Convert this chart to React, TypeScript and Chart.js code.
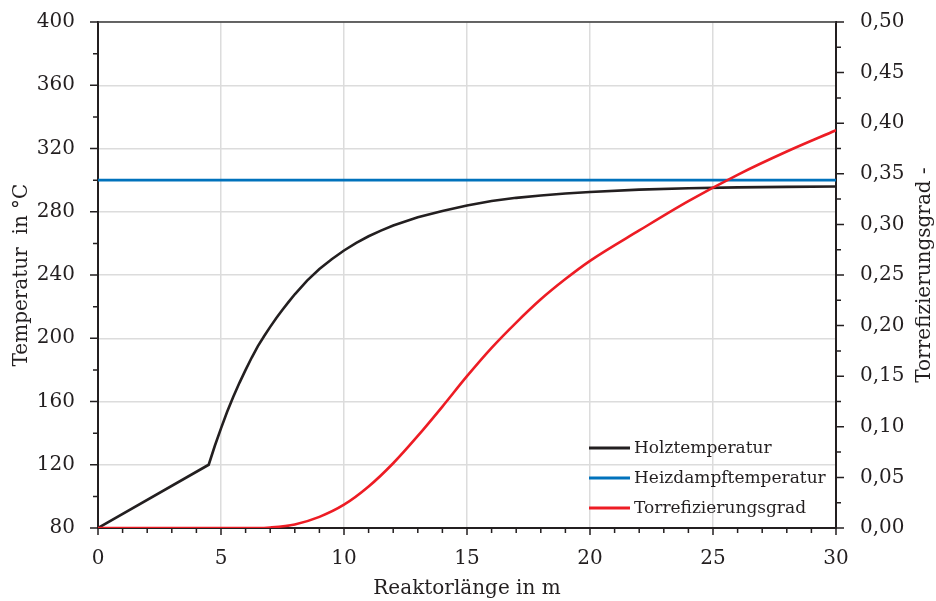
import { useEffect, useRef } from "react";
import { Chart, registerables } from "chart.js";

Chart.register(...registerables);

const FONT = "'DejaVu Serif', 'Liberation Serif', serif";
const INK = "#231f20";
const GRID = "#dcdcdc";

// Holztemperatur along the reactor (m, °C)
const holzX = [0, 4.5, 4.75, 5, 5.25, 5.5, 5.75, 6, 6.25, 6.5, 6.75, 7, 7.25, 7.5, 7.75, 8, 8.5, 9, 9.5, 10, 10.5, 11, 11.5, 12, 13, 14, 15, 16, 17, 18, 19, 20, 22, 24, 26, 28, 30];
const holzTemp = [80, 120, 132, 143, 153.5, 163, 171.8, 180, 187.8, 195, 201.3, 207.2, 212.8, 218, 223, 227.8, 236.5, 243.8, 250, 255.5, 260.3, 264.5, 268.1, 271.3, 276.5, 280.5, 284, 286.8, 288.8, 290.3, 291.5, 292.5, 294, 294.9, 295.4, 295.7, 296];

// Heizdampftemperatur (constant)
const dampfX = [0, 30];
const dampfTemp = [300, 300];

// Torrefizierungsgrad along the reactor (m, -)
const gradX = [0, 6.5, 7, 8, 9, 10, 11, 12, 13, 14, 15, 16, 17, 18, 19, 20, 22, 24, 26, 28, 30];
const gradValues = [0, 0, 0.0005, 0.0035, 0.011, 0.023, 0.041, 0.064, 0.091, 0.12, 0.15, 0.178, 0.203, 0.226, 0.246, 0.264, 0.294, 0.323, 0.349, 0.372, 0.393];

const seriesLabels = ["Holztemperatur", "Heizdampftemperatur", "Torrefizierungsgrad"];
const seriesColors = ["#231f20", "#0072bc", "#ed1c24"];

const xTitle = "Reaktorlänge in m";
const yTitle = "Temperatur  in °C";
const y2Title = "Torrefizierungsgrad -";

const toPoints = (xs: number[], ys: number[]) => xs.map((x, i) => ({ x, y: ys[i] }));

// Frame, minor/major tick marks, legend and right-hand axis title
const decorations = {
  id: "decorations",
  afterDraw(chart: any) {
    const { ctx, chartArea: a, scales } = chart;
    ctx.save();

    // top edge of the frame
    ctx.strokeStyle = "#3a3a3a";
    ctx.lineWidth = 1.5;
    ctx.beginPath();
    ctx.moveTo(a.left, a.top);
    ctx.lineTo(a.right, a.top);
    ctx.stroke();

    ctx.strokeStyle = INK;
    ctx.lineWidth = 1.5;
    ctx.beginPath();
    // left axis: every 20 °C, long marks every 40 °C
    for (let v = scales.y.min; v <= scales.y.max + 1e-9; v += 20) {
      const p = scales.y.getPixelForValue(v);
      const len = (v - scales.y.min) % 40 === 0 ? 8 : 5;
      ctx.moveTo(a.left - len, p);
      ctx.lineTo(a.left, p);
    }
    // bottom axis: every 1 m, long marks every 5 m
    for (let v = scales.x.min; v <= scales.x.max + 1e-9; v += 1) {
      const p = scales.x.getPixelForValue(v);
      const len = v % 5 === 0 ? 7 : 5;
      ctx.moveTo(p, a.bottom);
      ctx.lineTo(p, a.bottom + len);
    }
    // right axis: every 0.025, long marks every 0.05
    for (let i = 0; i <= 20; i++) {
      const v = i * 0.025;
      const p = scales.y2.getPixelForValue(v);
      const len = i % 2 === 0 ? 8 : 5;
      ctx.moveTo(a.right, p);
      ctx.lineTo(a.right + len, p);
    }
    ctx.stroke();

    // legend in the lower right of the plot
    ctx.font = `17px ${FONT}`;
    ctx.textBaseline = "middle";
    ctx.textAlign = "left";
    chart.data.datasets.forEach((ds: any, i: number) => {
      const y = a.bottom - 80 + i * 30;
      const x0 = a.right - 247;
      ctx.strokeStyle = ds.borderColor;
      ctx.lineWidth = 3;
      ctx.beginPath();
      ctx.moveTo(x0, y);
      ctx.lineTo(x0 + 41, y);
      ctx.stroke();
      ctx.fillStyle = INK;
      ctx.fillText(ds.label, x0 + 45, y + 1);
    });

    // right axis title, reading bottom to top
    ctx.font = `20px ${FONT}`;
    ctx.fillStyle = INK;
    ctx.textAlign = "center";
    ctx.textBaseline = "middle";
    ctx.translate(925, (a.top + a.bottom) / 2);
    ctx.rotate(-Math.PI / 2);
    ctx.fillText(y2Title, 0, 0);

    ctx.restore();
  },
};

// fixed axis band sizes so the plot area sits where it should
const fixWidth = (w: number) => (s: any) => {
  s.width = w;
  s.paddingTop = 0;
  s.paddingBottom = 0;
};

export default function App() {
  const canvasRef = useRef<HTMLCanvasElement | null>(null);

  useEffect(() => {
    document.body.style.margin = "0";
    const canvas = canvasRef.current;
    if (!canvas) return;

    const chart = new Chart(canvas, {
      type: "line",
      data: {
        datasets: [
          {
            label: seriesLabels[0],
            data: toPoints(holzX, holzTemp),
            borderColor: seriesColors[0],
            borderWidth: 2.6,
            pointRadius: 0,
            tension: 0,
            yAxisID: "y",
            order: 1,
          },
          {
            label: seriesLabels[1],
            data: toPoints(dampfX, dampfTemp),
            borderColor: seriesColors[1],
            borderWidth: 2.6,
            pointRadius: 0,
            yAxisID: "y",
            order: 2,
          },
          {
            label: seriesLabels[2],
            data: toPoints(gradX, gradValues),
            borderColor: seriesColors[2],
            borderWidth: 2.6,
            pointRadius: 0,
            cubicInterpolationMode: "monotone",
            yAxisID: "y2",
            order: 0,
          },
        ],
      },
      options: {
        responsive: false,
        animation: false,
        layout: { padding: { top: 22, left: 0, right: 0, bottom: 0 } },
        plugins: { legend: { display: false }, tooltip: { enabled: false } },
        scales: {
          x: {
            type: "linear",
            min: 0,
            max: 30,
            afterFit: (s: any) => {
              s.height = 73;
              s.paddingLeft = 0;
              s.paddingRight = 0;
            },
            ticks: {
              stepSize: 5,
              padding: 19,
              color: INK,
              font: { family: FONT, size: 20 },
              maxRotation: 0,
            },
            grid: { color: GRID, lineWidth: 1.5, drawTicks: false },
            border: { display: true, color: INK, width: 2 },
            title: {
              display: true,
              text: xTitle,
              color: INK,
              font: { family: FONT, size: 20 },
              padding: { top: 0, bottom: 0 },
            },
          },
          y: {
            type: "linear",
            position: "left",
            min: 80,
            max: 400,
            afterFit: fixWidth(98),
            ticks: {
              stepSize: 40,
              padding: 23,
              color: INK,
              font: { family: FONT, size: 20 },
            },
            grid: { color: GRID, lineWidth: 1.5, drawTicks: false },
            border: { display: true, color: INK, width: 2 },
            title: {
              display: true,
              text: yTitle,
              color: INK,
              font: { family: FONT, size: 20 },
              padding: { top: 10, bottom: 0 },
            },
          },
          y2: {
            type: "linear",
            position: "right",
            min: 0,
            max: 0.5,
            afterFit: fixWidth(100),
            ticks: {
              stepSize: 0.05,
              padding: 24,
              color: INK,
              font: { family: FONT, size: 20 },
              callback: (v: any) => Number(v).toFixed(2).replace(".", ","),
            },
            grid: { display: false, drawTicks: false },
            border: { display: true, color: INK, width: 2 },
          },
        },
      },
      plugins: [decorations],
    });

    return () => chart.destroy();
  }, []);

  return (
    <div style={{ width: 936, height: 601, background: "#fff" }}>
      <canvas ref={canvasRef} width={936} height={601} style={{ display: "block" }} />
    </div>
  );
}
